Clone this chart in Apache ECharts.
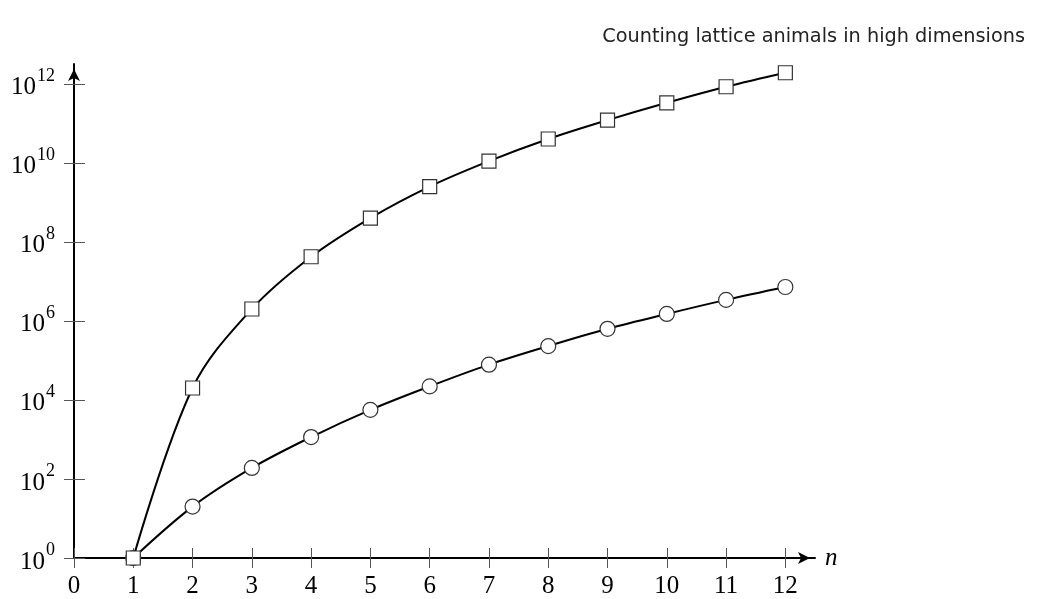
<!DOCTYPE html>
<html><head><meta charset="utf-8">
<script src="https://cdn.jsdelivr.net/npm/echarts@6/dist/echarts.min.js"></script>
<style>html,body{margin:0;padding:0;background:#fff}#c{width:1040px;height:599px}</style>
</head><body><div id="c"></div>
<script>
const nValues = [1,2,3,4,5,6,7,8,9,10,11,12];
const squareCounts = [1, 2e4, 2e6, 4.2e7, 4e8, 2.5e9, 1.1e10, 4e10, 1.2e11, 3.3e11, 8.4e11, 1.9e12];
const circleCounts = [1, 20, 190, 1150, 5600, 22000, 78000, 2.3e5, 6.3e5, 1.5e6, 3.4e6, 7.2e6];
const xTicks = [0,1,2,3,4,5,6,7,8,9,10,11,12];
const yTicks = [1, 1e2, 1e4, 1e6, 1e8, 1e10, 1e12];
const titleText = 'Counting lattice animals in high dimensions';

const serif = '"Liberation Serif", "Times New Roman", serif';
const yMax = Math.pow(10, 12.5);
const xMax = 12.5;

function pair(a,b){ return a.map((v,i)=>[v,b[i]]); }
const yLabelFmt = v => '{b|10}{s|' + Math.round(Math.log10(v)) + '}';

const chart = echarts.init(document.getElementById('c'), null, {renderer:'canvas'});
chart.setOption({
  animation:false,
  backgroundColor:'#fff',
  title:{text:titleText, right:10, top:22, textStyle:{fontFamily:'DejaVu Sans', fontSize:19.3, fontWeight:'normal', color:'#222'}},
  grid:{left:74, right:225, top:64, bottom:41},
  xAxis:[{
    type:'value', min:0, max:xMax, position:'bottom',
    name:'n', nameLocation:'end', nameGap:10,
    nameTextStyle:{fontFamily:serif, fontStyle:'italic', fontSize:25, color:'#000', verticalAlign:'middle', padding:[0,0,6,0]},
    axisLine:{onZero:false, lineStyle:{color:'#000', width:2}, symbol:['none','arrow'], symbolSize:[9,12], symbolOffset:[0,-5]},
    axisTick:{inside:false, length:10, lineStyle:{color:'#555', width:1}, customValues:xTicks},
    axisLabel:{fontFamily:serif, fontSize:25, color:'#000', margin:16, customValues:xTicks},
    splitLine:{show:false}
  },{
    type:'value', min:0, max:xMax, position:'bottom',
    axisLine:{show:false, onZero:false},
    axisTick:{inside:true, length:10, lineStyle:{color:'#555', width:1}, customValues:xTicks},
    axisLabel:{show:false},
    splitLine:{show:false}
  }],
  yAxis:[{
    type:'log', min:1, max:yMax, position:'left',
    axisLine:{lineStyle:{color:'#000', width:2}, symbol:['none','arrow'], symbolSize:[9,12], symbolOffset:[0,-5]},
    axisTick:{inside:false, length:10, lineStyle:{color:'#555', width:1}, customValues:yTicks},
    axisLabel:{margin:19, formatter:yLabelFmt, customValues:yTicks,
      rich:{b:{fontFamily:serif, fontSize:25, color:'#000', verticalAlign:'bottom', padding:[8,0,0,0]},
            s:{fontFamily:serif, fontSize:18, color:'#000', verticalAlign:'top', padding:[0,0,9,1]}}},
    splitLine:{show:false}
  },{
    type:'log', min:1, max:yMax, position:'left',
    axisLine:{show:false},
    axisTick:{inside:true, length:11, lineStyle:{color:'#555', width:1}, customValues:yTicks},
    axisLabel:{show:false},
    splitLine:{show:false}
  }],
  series:[{
    type:'line', data:pair(nValues, circleCounts), smooth:0.35,
    symbol:'circle', symbolSize:15,
    lineStyle:{color:'#000', width:2},
    itemStyle:{color:'#fff', borderColor:'#333', borderWidth:1.2}, z:2
  },{
    type:'line', data:pair(nValues, squareCounts), smooth:0.35,
    symbol:'rect', symbolSize:14,
    lineStyle:{color:'#000', width:2},
    itemStyle:{color:'#fff', borderColor:'#333', borderWidth:1.2}, z:3
  }]
});
</script></body></html>
